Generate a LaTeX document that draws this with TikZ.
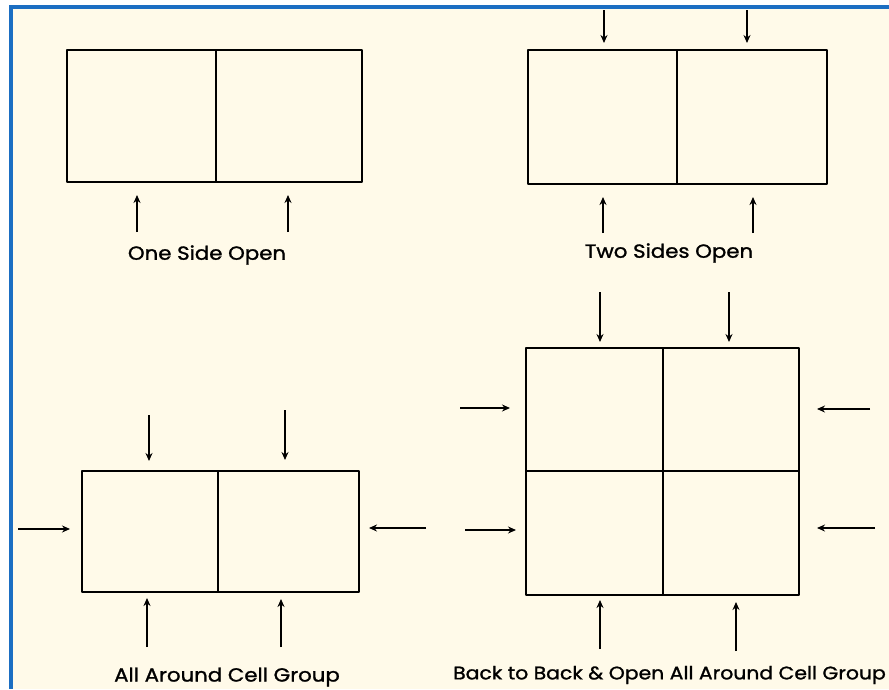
\documentclass[tikz,border=0pt]{standalone}
\usepackage{fontspec}
\newfontfamily\lblfont{Poppins}[FakeBold=1.3, FakeStretch=1.12]
\usetikzlibrary{arrows.meta}
\definecolor{paper}{HTML}{FFFAE9}
\definecolor{frameblue}{HTML}{1B6EC2}
\begin{document}
\begin{tikzpicture}[x=1pt,y=-1pt,
  cell/.style={draw, line width=2pt, inner sep=0pt, outer sep=0pt, line join=round},
  arr/.style={line width=2pt, -{Stealth[length=8pt,width=7pt]}},
  lbl/.style={font=\lblfont\fontsize{19}{21}\selectfont, inner sep=0pt}]
% page and background
\useasboundingbox (0,0) rectangle (889,689);
\fill[white] (0,0) rectangle (889,689);
\fill[paper] (11,7) rectangle (889,689);
\fill[frameblue] (9,5) rectangle (13,689);
\fill[frameblue] (9,5) rectangle (889,9);

% ---- One Side Open ----
\node[cell, minimum width=149pt, minimum height=132pt] (a1) at (141.5,116) {};
\node[cell, minimum width=146pt, minimum height=132pt] (a2) at (289,116) {};
\coordinate (ta1) at (137,232);
\coordinate (ta2) at (288,232);
\draw[arr, shorten >=13pt] (ta1) -- (ta1 |- a1.south);
\draw[arr, shorten >=13pt] (ta2) -- (ta2 |- a2.south);
\node[lbl] (la) at (207,255) {One Side Open};

% ---- Two Sides Open ----
\node[cell, minimum width=149pt, minimum height=134pt] (b1) at (602.5,117) {};
\node[cell, minimum width=150pt, minimum height=134pt] (b2) at (752,117) {};
\coordinate (tb1) at (604,10);
\coordinate (tb2) at (747,10);
\coordinate (tb3) at (603,233);
\coordinate (tb4) at (753,233);
\draw[arr, shorten >=7pt] (tb1) -- (tb1 |- b1.north);
\draw[arr, shorten >=7pt] (tb2) -- (tb2 |- b2.north);
\draw[arr, shorten >=13pt] (tb3) -- (tb3 |- b1.south);
\draw[arr, shorten >=13pt] (tb4) -- (tb4 |- b2.south);
\node[lbl] (lb) at (669,253) {Two Sides Open};

% ---- All Around Cell Group ----
\node[cell, minimum width=136pt, minimum height=121pt] (c1) at (150,531.5) {};
\node[cell, minimum width=141pt, minimum height=121pt] (c2) at (288.5,531.5) {};
\coordinate (tc1) at (149,415);
\coordinate (tc2) at (285,410);
\coordinate (tc3) at (147,647);
\coordinate (tc4) at (281,647);
\coordinate (tc5) at (18,529);
\coordinate (tc6) at (426,528);
\draw[arr, shorten >=10pt] (tc1) -- (tc1 |- c1.north);
\draw[arr, shorten >=11pt] (tc2) -- (tc2 |- c2.north);
\draw[arr, shorten >=6pt] (tc3) -- (tc3 |- c1.south);
\draw[arr, shorten >=7pt] (tc4) -- (tc4 |- c2.south);
\draw[arr, shorten >=12pt] (tc5) -- (tc5 -| c1.west);
\draw[arr, shorten >=10pt] (tc6) -- (tc6 -| c2.east);
\node[lbl] (lc) at (227,677) {All Around Cell Group};

% ---- Back to Back & Open All Around Cell Group ----
\node[cell, minimum width=137pt, minimum height=123pt] (d1) at (594.5,409.5) {};
\node[cell, minimum width=136pt, minimum height=123pt] (d2) at (731,409.5) {};
\node[cell, minimum width=137pt, minimum height=124pt] (d3) at (594.5,533) {};
\node[cell, minimum width=136pt, minimum height=124pt] (d4) at (731,533) {};
\coordinate (td1) at (600,292);
\coordinate (td2) at (729,292);
\coordinate (td3) at (600,649);
\coordinate (td4) at (736,651);
\coordinate (td5) at (460,408);
\coordinate (td6) at (465,530);
\coordinate (td7) at (870,409);
\coordinate (td8) at (875,528);
\draw[arr, shorten >=6pt] (td1) -- (td1 |- d1.north);
\draw[arr, shorten >=6pt] (td2) -- (td2 |- d2.north);
\draw[arr, shorten >=5pt] (td3) -- (td3 |- d3.south);
\draw[arr, shorten >=7pt] (td4) -- (td4 |- d4.south);
\draw[arr, shorten >=16pt] (td5) -- (td5 -| d1.west);
\draw[arr, shorten >=10pt] (td6) -- (td6 -| d3.west);
\draw[arr, shorten >=18pt] (td7) -- (td7 -| d2.east);
\draw[arr, shorten >=18pt] (td8) -- (td8 -| d4.east);
\node[lbl, anchor=west, font=\lblfont\fontsize{18.2}{20}\selectfont] (ld) at (453,675) {Back to Back \& Open All Around Cell Group};
\end{tikzpicture}
\end{document}
